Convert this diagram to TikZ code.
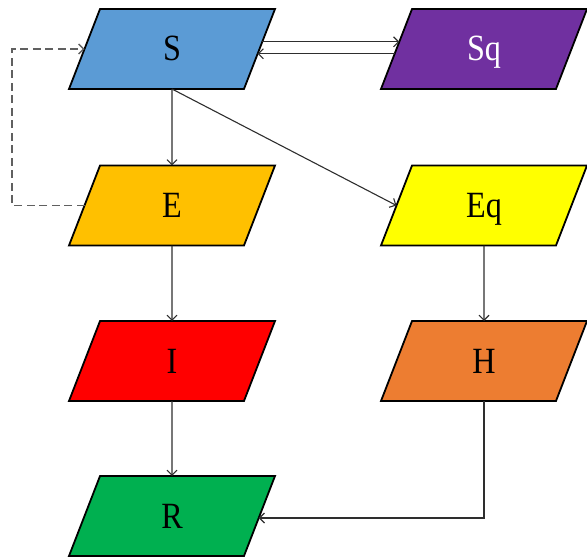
\documentclass[tikz,border=0pt]{standalone}
\usepackage{fontspec}
\newfontfamily\lblfont[FakeStretch=0.87]{Liberation Serif}
\usetikzlibrary{shapes.geometric,arrows.meta,calc}

\definecolor{cS}{HTML}{5B9BD5}
\definecolor{cSq}{HTML}{7030A0}
\definecolor{cE}{HTML}{FFC000}
\definecolor{cEq}{HTML}{FFFF00}
\definecolor{cI}{HTML}{FF0000}
\definecolor{cH}{HTML}{ED7D31}
\definecolor{cR}{HTML}{00B050}
\definecolor{wire}{HTML}{2E2E2E}

\tikzset{
  box/.style={trapezium, trapezium left angle=68.8, trapezium right angle=111.2,
    trapezium stretches body, minimum width=206bp,
    inner xsep=0pt, inner ysep=28bp, outer sep=0pt, draw=black, line width=1.8bp,
    font=\lblfont\fontsize{37bp}{40bp}\selectfont, text height=24bp, text depth=0pt},
  flow/.style={draw=wire, line width=1.1bp, -{Straight Barb[length=5bp,width=10bp]}},
  loopback/.style={draw=gray!75!black, line width=1.4bp, dash pattern=on 8bp off 4.5bp,
    -{Straight Barb[length=5bp,width=10bp]}},
}

\begin{document}
\begin{tikzpicture}[x=1bp,y=-1bp]
\useasboundingbox (0,0) rectangle (587,559);

% compartments
\node[box, fill=cS]  (S)  at (172,49)    {S};
\node[box, fill=cSq, text=white] (Sq) at (484,49) {Sq};
\node[box, fill=cE]  (E)  at (172,205.5) {E};
\node[box, fill=cEq] (Eq) at (484,205.5) {Eq};
\node[box, fill=cI]  (I)  at (172,361)   {I};
\node[box, fill=cH]  (H)  at (484,361)   {H};
\node[box, fill=cR]  (R)  at (172,516)   {R};

% points on the slanted sides
\coordinate (Sout) at ($(S.top right corner)!0.41!(S.bottom right corner)$);
\coordinate (Sin)  at ($(S.top right corner)!0.56!(S.bottom right corner)$);
\coordinate (Sqin) at ($(Sq.top left corner)!0.41!(Sq.bottom left corner)$);
\coordinate (Sqout) at ($(Sq.top left corner)!0.56!(Sq.bottom left corner)$);
\coordinate (Rin)  at ($(R.top right corner)!0.525!(R.bottom right corner)$);
\coordinate (loop) at (12,205.5);

% transitions
\draw[flow] (Sout) -- (Sout -| Sqin);
\draw[flow] (Sqout) -- (Sqout -| Sin);
\draw[flow] (S.south) -- (E.north);
\draw[flow] (S.south) -- (Eq.left side);
\draw[flow] (E.south) -- (I.north);
\draw[flow] (I.south) -- (R.north);
\draw[flow] (Eq.south) -- (H.north);
\draw[flow] (H.south) |- (Rin);
\draw[loopback] (E.left side) -- (loop) |- (S.left side);
\end{tikzpicture}
\end{document}
